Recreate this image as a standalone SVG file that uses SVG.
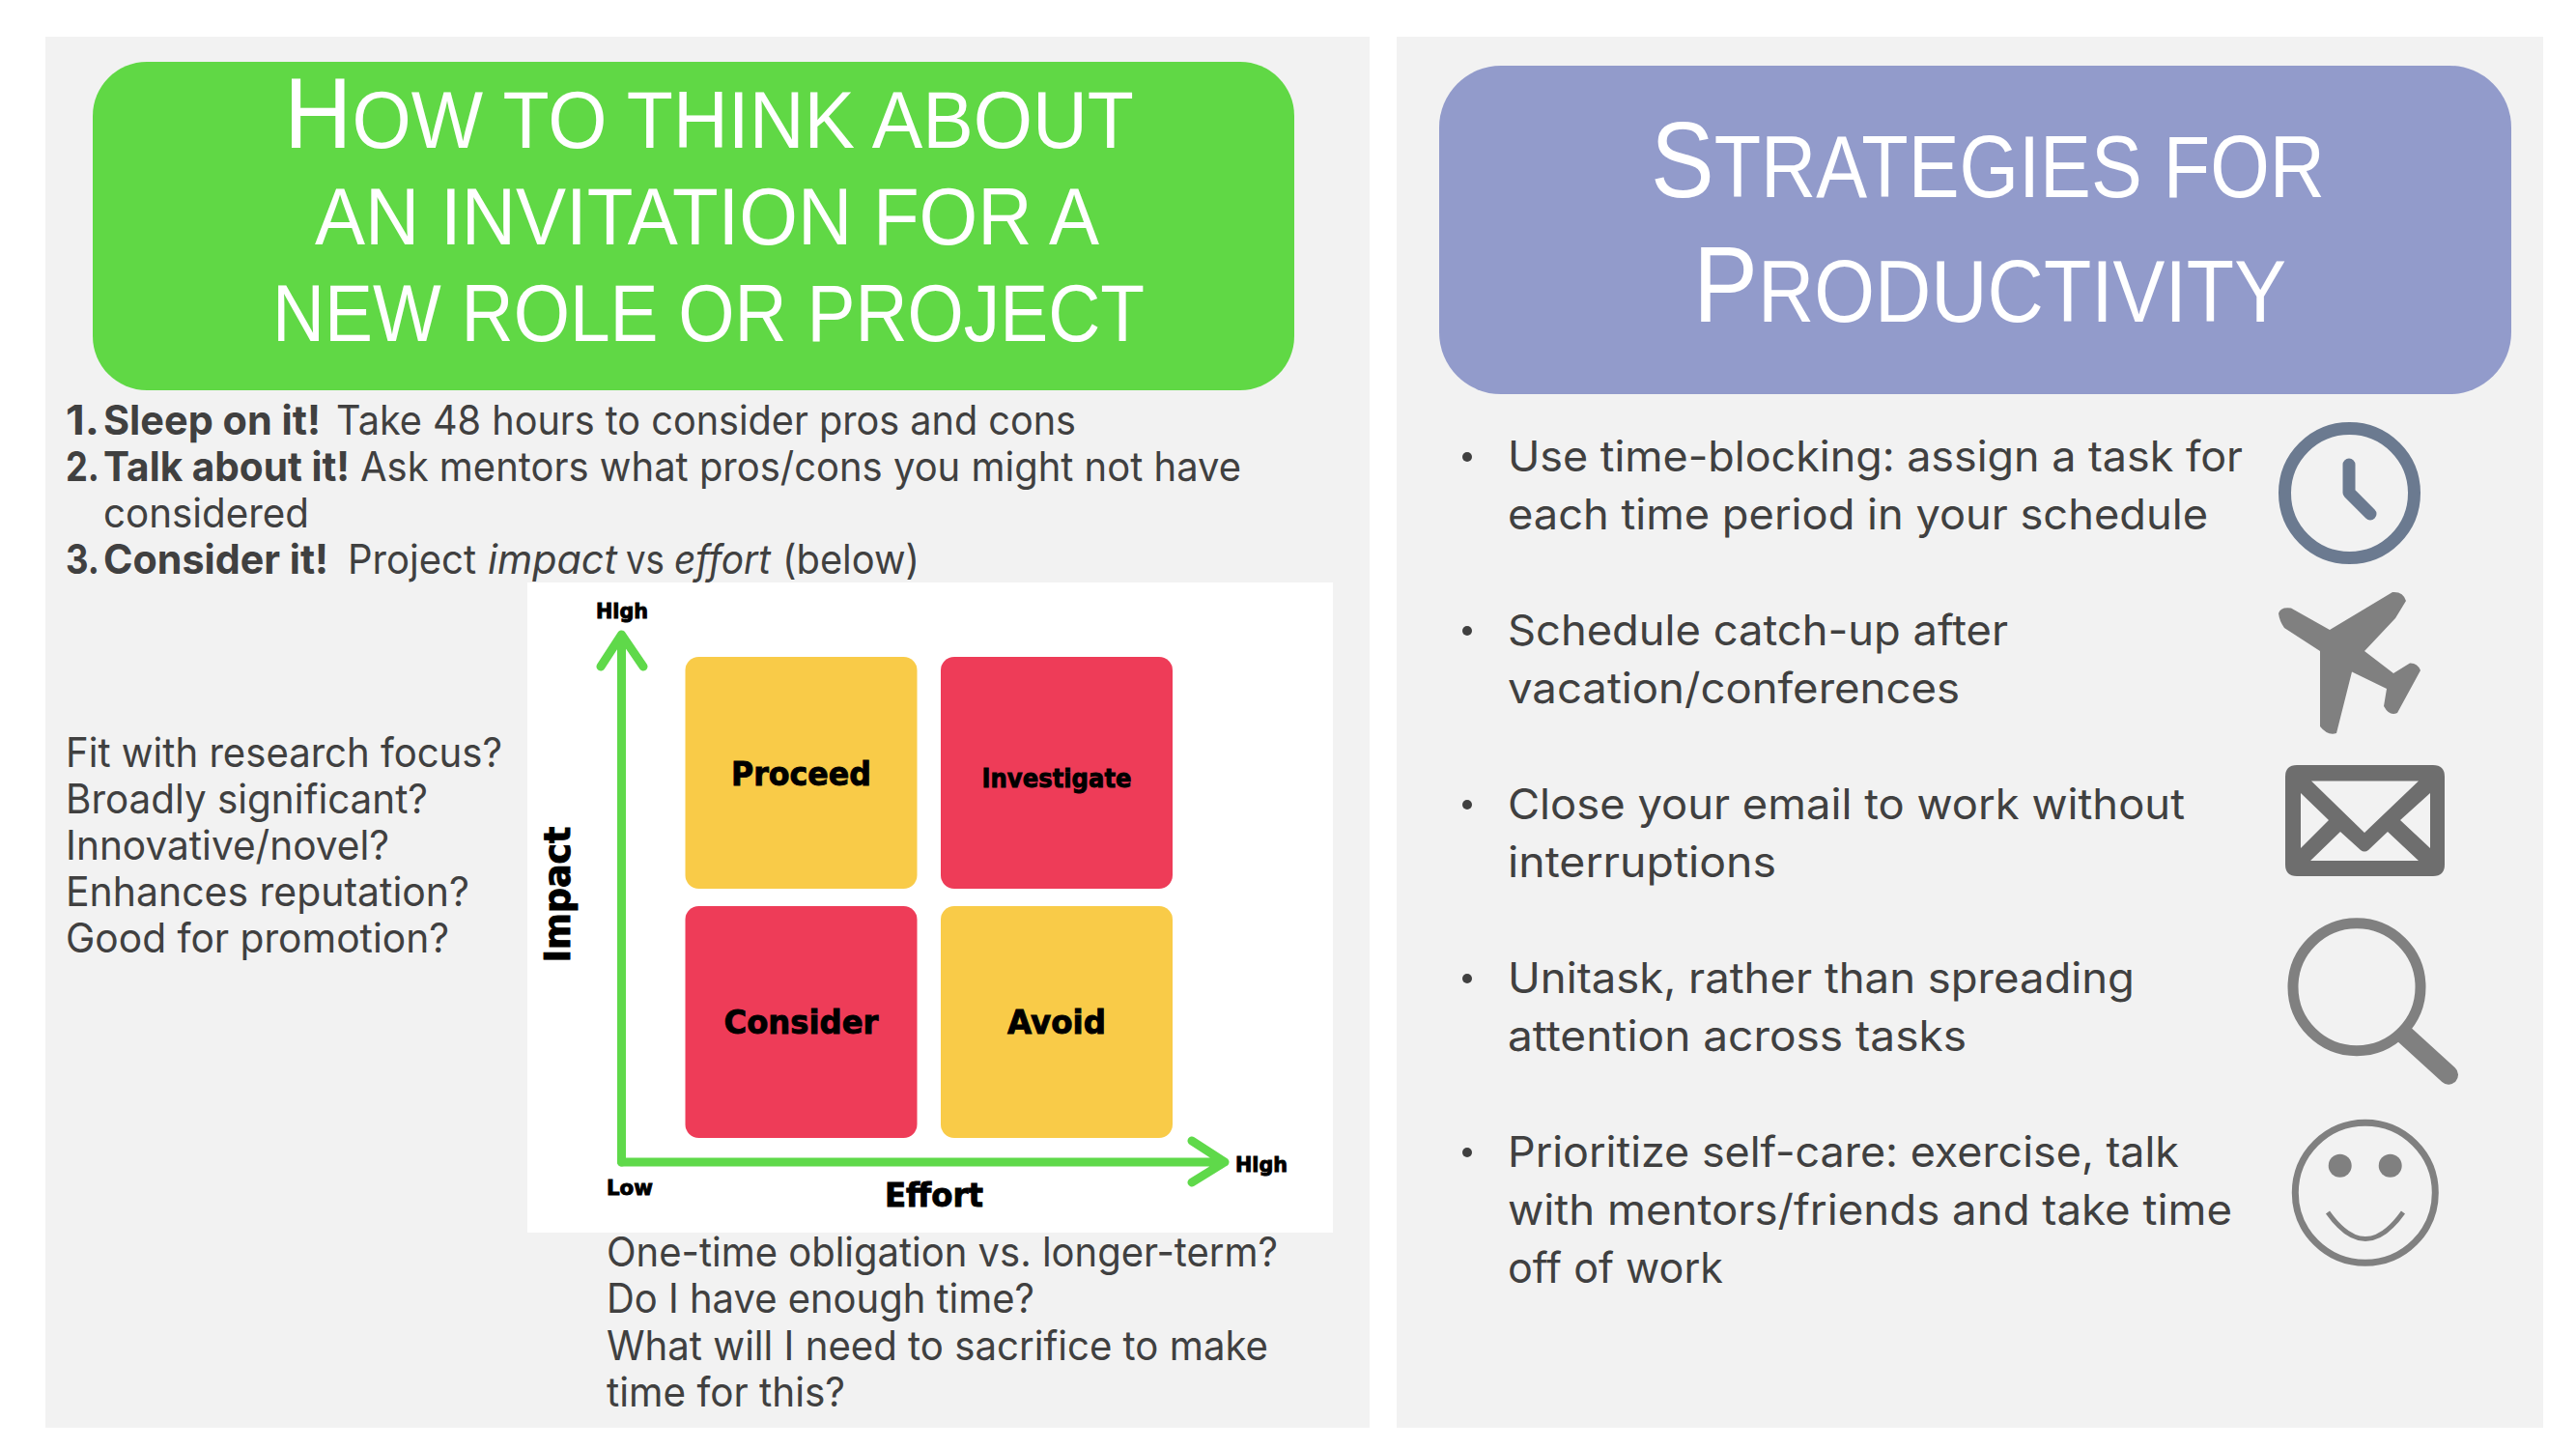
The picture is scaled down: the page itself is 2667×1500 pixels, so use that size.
<svg xmlns="http://www.w3.org/2000/svg" width="2667" height="1500" viewBox="0 0 2667 1500">
<style>
text{font-family:"Inter","Noto Sans",sans-serif;fill:#404040;font-size:42px}
.title{font-family:"Liberation Sans",Arial,sans-serif;fill:#fff;font-size:84px}
.cap{font-size:104px}
.t2{font-size:90px}
.cap2{font-size:112px}
.r{font-size:44px}
.b{font-weight:700}
.i{font-style:italic}
.m{font-family:"DejaVu Sans",sans-serif;font-weight:700;fill:#000;text-anchor:middle;stroke:#000;stroke-width:.9px}
.m-l{font-size:33px}
.m-s{font-size:27px}
.m-a{font-size:21px}
.m-y{font-size:37px}
.ic{fill:#808080}
.ln{fill:none;stroke:#808080}
.ax{fill:none;stroke:#5fd94a;stroke-width:9;stroke-linecap:round;stroke-linejoin:round}
.yl{fill:#f9cb48}
.rd{fill:#ee3c58}
</style>
<rect width="2667" height="1500" fill="#fff"/>
<g id="panels">
<rect x="47" y="38" width="1371" height="1440" fill="#f2f2f2"/>
<rect x="1446" y="38" width="1187" height="1440" fill="#f2f2f2"/>
</g>
<g id="left-title">
<rect x="96" y="64" width="1244" height="340" rx="56" fill="#60d845"/>
<text class="title" x="294" y="153" textLength="880" lengthAdjust="spacingAndGlyphs"><tspan class="cap">H</tspan>OW TO THINK ABOUT</text>
<text class="title" x="326" y="253" textLength="812" lengthAdjust="spacingAndGlyphs">AN INVITATION FOR A</text>
<text class="title" x="282" y="353" textLength="903" lengthAdjust="spacingAndGlyphs">NEW ROLE OR PROJECT</text>
</g>
<g id="steps">
<text class="b" x="68" y="450" textLength="35" lengthAdjust="spacingAndGlyphs">1.</text>
<text class="b" x="107" y="450" textLength="225" lengthAdjust="spacingAndGlyphs">Sleep on it!</text>
<text x="348" y="450" textLength="766" lengthAdjust="spacingAndGlyphs">Take 48 hours to consider pros and cons</text>
<text class="b" x="68" y="498" textLength="35" lengthAdjust="spacingAndGlyphs">2.</text>
<text class="b" x="107" y="498" textLength="255" lengthAdjust="spacingAndGlyphs">Talk about it!</text>
<text x="373" y="498" textLength="912" lengthAdjust="spacingAndGlyphs">Ask mentors what pros/cons you might not have</text>
<text x="107" y="546" textLength="213" lengthAdjust="spacingAndGlyphs">considered</text>
<text class="b" x="68" y="594" textLength="35" lengthAdjust="spacingAndGlyphs">3.</text>
<text class="b" x="107" y="594" textLength="233" lengthAdjust="spacingAndGlyphs">Consider it!</text>
<text x="360" y="594" textLength="133" lengthAdjust="spacingAndGlyphs">Project</text>
<text class="i" x="505" y="594" textLength="134" lengthAdjust="spacingAndGlyphs">impact</text>
<text x="648" y="594" textLength="40" lengthAdjust="spacingAndGlyphs">vs</text>
<text class="i" x="698" y="594" textLength="100" lengthAdjust="spacingAndGlyphs">effort</text>
<text x="810" y="594" textLength="142" lengthAdjust="spacingAndGlyphs">(below)</text>
</g>
<g id="impact-questions">
<text x="68" y="794" textLength="452" lengthAdjust="spacingAndGlyphs">Fit with research focus?</text>
<text x="68" y="842" textLength="375" lengthAdjust="spacingAndGlyphs">Broadly significant?</text>
<text x="68" y="890" textLength="335" lengthAdjust="spacingAndGlyphs">Innovative/novel?</text>
<text x="68" y="938" textLength="418" lengthAdjust="spacingAndGlyphs">Enhances reputation?</text>
<text x="68" y="986" textLength="397" lengthAdjust="spacingAndGlyphs">Good for promotion?</text>
</g>
<g id="effort-questions">
<text x="628" y="1311" textLength="695" lengthAdjust="spacingAndGlyphs">One-time obligation vs. longer-term?</text>
<text x="628" y="1359" textLength="443" lengthAdjust="spacingAndGlyphs">Do I have enough time?</text>
<text x="628" y="1408" textLength="685" lengthAdjust="spacingAndGlyphs">What will I need to sacrifice to make</text>
<text x="628" y="1456" textLength="247" lengthAdjust="spacingAndGlyphs">time for this?</text>
</g>
<g id="matrix">
<rect x="546" y="603" width="834" height="673" fill="#fff"/>
</g>
<g id="proceed"><rect class="yl" x="709.500" y="680" width="240" height="240" rx="14"/><text class="m m-l" x="829.500" y="813" textLength="145" lengthAdjust="spacingAndGlyphs">Proceed</text></g>
<g id="investigate"><rect class="rd" x="974" y="680" width="240" height="240" rx="14"/><text class="m m-s" x="1094" y="815" textLength="155" lengthAdjust="spacingAndGlyphs">Investigate</text></g>
<g id="consider"><rect class="rd" x="709.500" y="938" width="240" height="240" rx="14"/><text class="m m-l" x="829.500" y="1070" textLength="160" lengthAdjust="spacingAndGlyphs">Consider</text></g>
<g id="avoid"><rect class="yl" x="974" y="938" width="240" height="240" rx="14"/><text class="m m-l" x="1094" y="1070" textLength="102" lengthAdjust="spacingAndGlyphs">Avoid</text></g>
<g id="connectors">
<path class="ax" d="M643.500 1203V657M622 690L643.500 657L666 690"/>
<path class="ax" d="M643.500 1203H1268M1234 1181L1268 1203L1234 1224"/>
</g>
<g id="axis-labels">
<text class="m m-a" x="644" y="640" textLength="54" lengthAdjust="spacingAndGlyphs">High</text>
<text class="m m-a" x="652" y="1237" textLength="48" lengthAdjust="spacingAndGlyphs">Low</text>
<text class="m m-a" x="1306" y="1213" textLength="54" lengthAdjust="spacingAndGlyphs">High</text>
<text class="m m-l" x="967" y="1249" textLength="102" lengthAdjust="spacingAndGlyphs">Effort</text>
<text class="m m-y" transform="translate(590 926) rotate(-90)" textLength="141" lengthAdjust="spacingAndGlyphs">Impact</text>
</g>
<g id="right-title">
<rect x="1490" y="68" width="1110" height="340" rx="64" fill="#929bcb"/>
<text class="title t2" x="1709" y="204" textLength="698" lengthAdjust="spacingAndGlyphs"><tspan class="cap2">S</tspan>TRATEGIES FOR</text>
<text class="title t2" x="1753" y="333" textLength="614" lengthAdjust="spacingAndGlyphs"><tspan class="cap2">P</tspan>RODUCTIVITY</text>
</g>
<g id="strategies">
<circle cx="1519" cy="473" r="5" fill="#404040"/>
<text class="r" x="1561" y="488" textLength="761" lengthAdjust="spacingAndGlyphs">Use time-blocking: assign a task for</text>
<text class="r" x="1561" y="548" textLength="725" lengthAdjust="spacingAndGlyphs">each time period in your schedule</text>
<circle cx="1519" cy="653" r="5" fill="#404040"/>
<text class="r" x="1561" y="668" textLength="518" lengthAdjust="spacingAndGlyphs">Schedule catch-up after</text>
<text class="r" x="1561" y="728" textLength="468" lengthAdjust="spacingAndGlyphs">vacation/conferences</text>
<circle cx="1519" cy="833" r="5" fill="#404040"/>
<text class="r" x="1561" y="848" textLength="701" lengthAdjust="spacingAndGlyphs">Close your email to work without</text>
<text class="r" x="1561" y="908" textLength="278" lengthAdjust="spacingAndGlyphs">interruptions</text>
<circle cx="1519" cy="1013" r="5" fill="#404040"/>
<text class="r" x="1561" y="1028" textLength="649" lengthAdjust="spacingAndGlyphs">Unitask, rather than spreading</text>
<text class="r" x="1561" y="1088" textLength="475" lengthAdjust="spacingAndGlyphs">attention across tasks</text>
<circle cx="1519" cy="1193" r="5" fill="#404040"/>
<text class="r" x="1561" y="1208" textLength="695" lengthAdjust="spacingAndGlyphs">Prioritize self-care: exercise, talk</text>
<text class="r" x="1561" y="1268" textLength="750" lengthAdjust="spacingAndGlyphs">with mentors/friends and take time</text>
<text class="r" x="1561" y="1328" textLength="223" lengthAdjust="spacingAndGlyphs">off of work</text>
</g>
<g id="clock-icon" fill="none" stroke="#6b7a90" stroke-width="13" stroke-linecap="round" stroke-linejoin="round">
<circle cx="2432.500" cy="510.500" r="67"/>
<path d="M2432 481V510L2454 532"/>
</g>
<g id="plane-icon">
<path class="ic" d="M2359 635Q2361 628 2372 629.500L2412 652L2477 613Q2488 612 2491 622L2480 640L2448 674L2478 697L2495 686.400Q2503 686 2506 694L2482 738Q2474 742 2468 731L2471 713L2435 695.600L2419 759Q2410 762 2402 752V674L2365 650Q2360 643 2359 635Z"/>
</g>
<g id="mail-icon">
<path fill="#6e6e6e" fill-rule="evenodd" d="M2378 792H2519Q2531 792 2531 804V895Q2531 907 2519 907H2378Q2366 907 2366 895V804Q2366 792 2378 792ZM2393 808.500L2448 862L2504 808.500ZM2382 821V878L2411 849ZM2516 821L2485 849L2516 878ZM2392 891H2504L2472 861L2452 880Q2448 883 2444 880L2423 861Z"/>
</g>
<g id="search-icon">
<circle class="ln" cx="2440" cy="1021.700" r="66" stroke-width="11"/>
<path class="ln" d="M2490 1071.700L2535 1112.700" stroke-width="20" stroke-linecap="round"/>
</g>
<g id="smile-icon">
<circle class="ln" cx="2448.800" cy="1234.800" r="72.500" stroke-width="7"/>
<circle class="ic" cx="2422.700" cy="1206.700" r="12"/>
<circle class="ic" cx="2474.700" cy="1206.700" r="12"/>
<path class="ln" d="M2410 1255Q2449 1310 2488 1255" stroke-width="5"/>
</g>
</svg>
